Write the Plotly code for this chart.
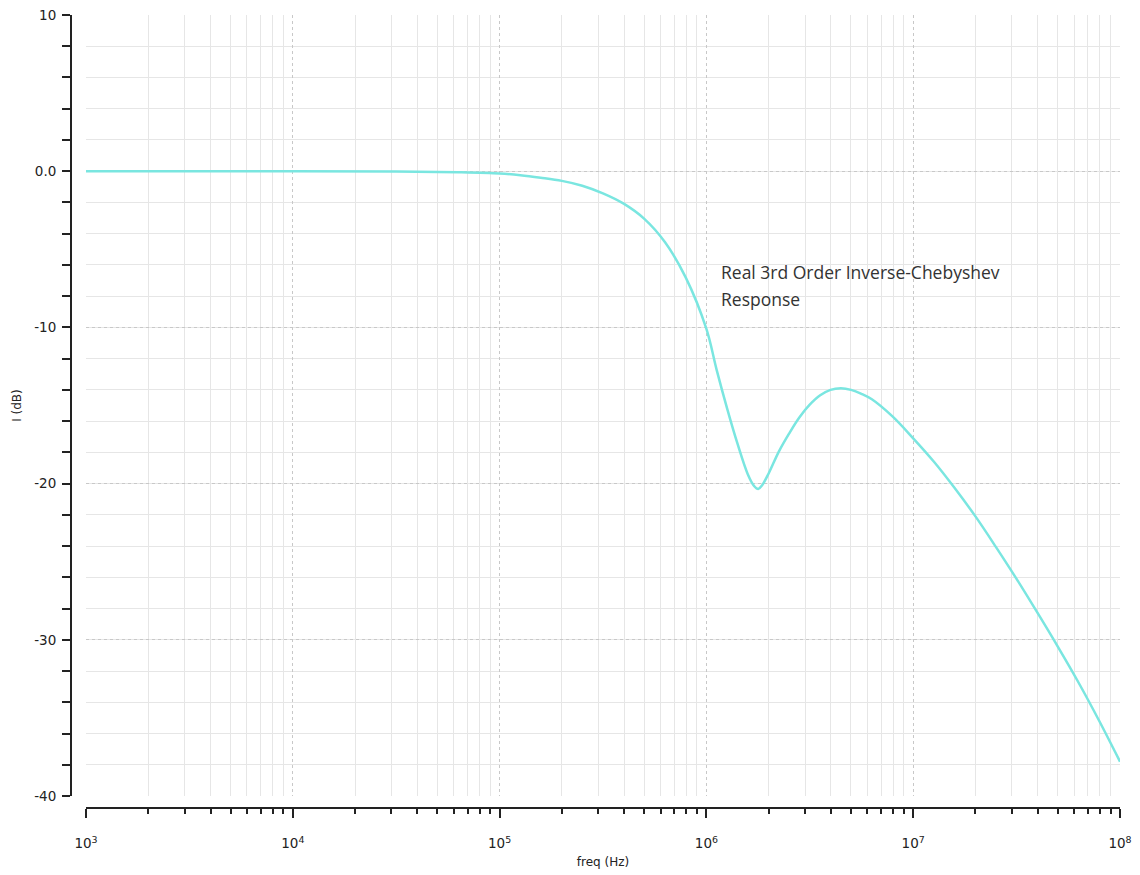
import plotly.graph_objects as go

# Magnitude response (freq in Hz, magnitude in dB)
freq_hz = [
    1e3, 1e4, 3.16e4, 6.31e4, 1.0e5, 1.26e5, 1.58e5, 2.0e5, 2.51e5, 3.16e5,
    3.98e5, 5.01e5, 6.31e5, 7.94e5, 1.0e6, 1.12e6, 1.26e6, 1.41e6, 1.585e6,
    1.70e6, 1.78e6, 1.86e6, 2.0e6, 2.24e6, 2.51e6, 2.82e6, 3.16e6, 3.55e6,
    3.98e6, 4.47e6, 5.01e6, 5.62e6, 6.31e6, 7.94e6, 1.0e7, 1.26e7, 1.58e7,
    2.0e7, 2.51e7, 3.16e7, 3.98e7, 5.01e7, 6.31e7, 7.94e7, 1.0e8,
]
mag_db = [
    0.0, 0.0, -0.02, -0.07, -0.15, -0.26, -0.42, -0.62, -0.93, -1.42,
    -2.08, -3.05, -4.55, -6.8, -10.1, -12.7, -15.2, -17.4, -19.4,
    -20.15, -20.35, -20.1, -19.35, -17.95, -16.8, -15.75, -14.95, -14.35,
    -14.0, -13.9, -14.0, -14.25, -14.6, -15.7, -17.1, -18.6, -20.25,
    -22.1, -24.05, -26.1, -28.25, -30.45, -32.75, -35.2, -37.8,
]

x_major = [1e3, 1e4, 1e5, 1e6, 1e7, 1e8]
x_major_text = ["10<sup>3</sup>", "10<sup>4</sup>", "10<sup>5</sup>",
                "10<sup>6</sup>", "10<sup>7</sup>", "10<sup>8</sup>"]
x_minor = [m * 10 ** e for e in range(3, 8) for m in range(2, 10)]

y_major = [10, 0, -10, -20, -30, -40]
y_major_text = ["10", "0.0", "-10", "-20", "-30", "-40"]

label_lines = ["Real 3rd Order Inverse-Chebyshev", "Response"]
label_x_log = 6.06
label_y = [-6.43, -8.16]

W, H = 1140, 875
ml, mr, mt, mb = 71, 20, 15, 67
pw, ph = W - ml - mr, H - mt - mb

fig = go.Figure()
fig.add_trace(go.Scatter(
    x=freq_hz, y=mag_db, mode="lines",
    line=dict(color="#7ae6e0", width=2.5, shape="spline", smoothing=1.0),
    showlegend=False, hoverinfo="skip",
))

ink = "#222222"
tick_font = dict(family="DejaVu Sans", size=13.5, color=ink)

fig.update_layout(
    width=W, height=H,
    margin=dict(l=ml, r=mr, t=mt, b=mb, autoexpand=False),
    paper_bgcolor="white", plot_bgcolor="white",
    xaxis=dict(
        type="log", range=[3, 8],
        domain=[15 / pw, 1], anchor="free", position=0,
        tickmode="array", tickvals=x_major, ticktext=x_major_text,
        ticks="outside", ticklen=9, tickwidth=1.5, tickcolor=ink,
        showline=True, linecolor=ink, linewidth=2,
        showgrid=True, gridcolor="#c8c8c8", gridwidth=1, griddash="dot",
        zeroline=False, tickfont=tick_font,
        ticklabelstandoff=14,
        minor=dict(tickmode="array", tickvals=x_minor, ticks="outside",
                   ticklen=5, tickwidth=1.5, tickcolor=ink,
                   showgrid=True, gridcolor="#e6e6e6", gridwidth=1,
                   griddash="solid"),
        title=dict(text="freq (Hz)", standoff=6,
                   font=dict(family="DejaVu Sans", size=12, color=ink)),
        automargin=False,
    ),
    yaxis=dict(
        range=[-40, 10],
        domain=[12 / ph, 1], anchor="free", position=0,
        tickmode="array", tickvals=y_major, ticktext=y_major_text,
        ticks="outside", ticklen=8, tickwidth=1.5, tickcolor=ink,
        showline=True, linecolor=ink, linewidth=2,
        showgrid=True, gridcolor="#c8c8c8", gridwidth=1, griddash="dot",
        zeroline=False, tickfont=tick_font,
        ticklabelstandoff=3,
        minor=dict(dtick=2, tick0=0, ticks="outside", ticklen=8, tickwidth=1.5,
                   tickcolor=ink, showgrid=True, gridcolor="#e6e6e6",
                   gridwidth=1, griddash="solid"),
        title=dict(text="I (dB)", standoff=9,
                   font=dict(family="DejaVu Sans", size=12, color=ink)),
        automargin=False,
    ),
)

for line, yv in zip(label_lines, label_y):
    fig.add_annotation(
        x=label_x_log, y=yv, xref="x", yref="y",
        text=line, showarrow=False, xanchor="left", yanchor="middle",
        font=dict(family="Open Sans", size=17.5, color="#333333"),
    )

fig.write_html("out.html")
